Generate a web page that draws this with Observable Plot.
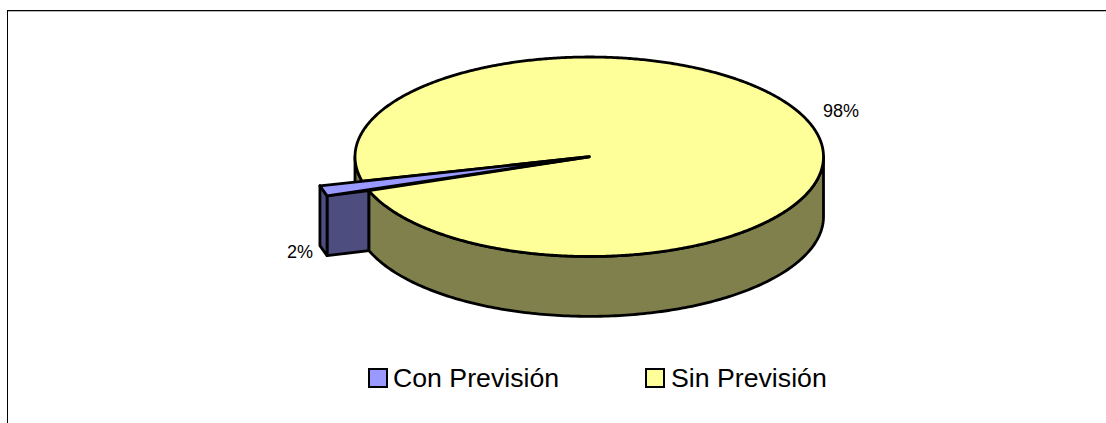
<!DOCTYPE html>
<html><head><meta charset="utf-8">
<script src="https://cdn.jsdelivr.net/npm/d3@7"></script>
<script src="https://cdn.jsdelivr.net/npm/@observablehq/plot@0.6"></script>
<style>
html,body{margin:0;background:#fff;overflow:hidden}
#frame{position:absolute;left:7px;top:10px;width:1099px;height:413px;border-left:1px solid #000;border-top:1px solid #000;box-sizing:border-box;box-shadow:inset 0 1px 0 #bbb}
#chart{position:absolute;left:0;top:0}
#legend{position:absolute;left:0;top:363px;height:30px;width:1106px;font:26.7px "Liberation Sans",Arial,sans-serif;color:#000}
.sw{position:absolute;top:4.5px;width:20px;height:20.5px;border:2.5px solid #000;box-sizing:border-box}
.lb{position:absolute;top:0;line-height:30px;white-space:nowrap}
</style></head><body>
<div id="frame"></div>
<div id="chart"></div>
<div id="legend"></div>
<script>
const categories = ["Con Previsión", "Sin Previsión"];
const shares = [2, 98];
const labels = ["2%", "98%"];
const topColors = ["#9999ff", "#ffff99"];
const sideColors = ["#4d4d80", "#80804d"];

// pie geometry, in units of the ellipse radius; angles in degrees below the left axis
const gapStart = 14.2, gapEnd = 19.9;
const explodedRadius = 1.186;
const tipStart = 14.2, tipEnd = 19.3;
const depth = 0.6;

const rad = d => d * Math.PI / 180;
const pt = (deg, r = 1, dy = 0) => ({x: -r * Math.cos(rad(deg)), y: r * Math.sin(rad(deg)) + dy});
const centre = {x: 0, y: 0};
const steps = (a, b, n = 180) => d3.range(n + 1).map(i => a + (b - a) * i / n);

const yellowTop = [centre, ...steps(gapEnd - 360, gapStart, 720).map(a => pt(a)), centre];
const wall = [...steps(gapEnd, 180).map(a => pt(a)), ...steps(180, gapEnd).map(a => pt(a, 1, depth))];
wall.push(wall[0]);
const backWall = [...steps(0, gapStart, 30).map(a => pt(a)), ...steps(gapStart, 0, 30).map(a => pt(a, 1, depth))];
backWall.push(backWall[0]);

const a = pt(tipStart, explodedRadius), b = pt(tipEnd, explodedRadius);
const a2 = pt(tipStart, explodedRadius, depth), b2 = pt(tipEnd, explodedRadius, depth);
const rim = [a, b, b2, a2, a];
const hidden = pt(gapEnd), hidden2 = pt(gapEnd, 1, depth);
const face = [b, hidden, hidden2, b2, b];
const blueTop = [centre, a, b, centre];

const poly = (pts, fill) => Plot.line(pts, {x: "x", y: "y", fill, stroke: "#000", strokeWidth: 2.8, curve: "linear", strokeLinejoin: "round"});
const font = "Liberation Sans, Arial, sans-serif";

const svg = Plot.plot({
  width: 1106, height: 360, margin: 0,
  x: {domain: [-1, 1], range: [354.5, 823], axis: null},
  y: {domain: [-1, 1], range: [56.5, 256], axis: null},
  style: {background: "transparent"},
  marks: [
    poly(backWall, sideColors[1]),
    poly(face, sideColors[0]),
    poly(rim, sideColors[0]),
    poly(wall, sideColors[1]),
    poly(yellowTop, topColors[1]),
    poly(blueTop, topColors[0]),
    Plot.text([labels[1]], {x: [1.075], y: [-0.46], text: d => d, fontSize: 18, fontFamily: font, fill: "#000"}),
    Plot.text([labels[0]], {x: [-1.235], y: [0.96], text: d => d, fontSize: 18, fontFamily: font, fill: "#000"})
  ]
});
document.getElementById("chart").append(svg);

const lg = document.getElementById("legend");
const swX = [368, 645], lbX = [393, 671];
categories.forEach((c, i) => {
  const s = document.createElement("div"); s.className = "sw";
  s.style.left = swX[i] + "px"; s.style.background = topColors[i]; lg.append(s);
  const l = document.createElement("div"); l.className = "lb";
  l.style.left = lbX[i] + "px"; l.textContent = c; lg.append(l);
});
</script></body></html>
